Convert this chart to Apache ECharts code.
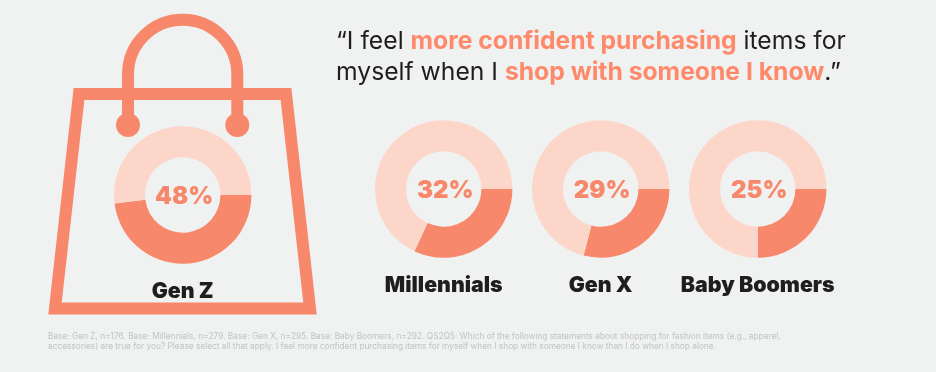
<!DOCTYPE html>
<html>
<head>
<meta charset="utf-8">
<style>
  html, body { margin: 0; padding: 0; background: #f0f1f1; }
  #chart { width: 936px; height: 372px; }
</style>
<script src="https://cdn.jsdelivr.net/npm/echarts@6/dist/echarts.min.js"></script>
</head>
<body>
<div id="chart"></div>
<script>
const generations = ['Gen Z', 'Millennials', 'Gen X', 'Baby Boomers']
const agreePct = [48, 32, 29, 25]
const restPct = [52, 68, 71, 75]

const dark = '#f8886b'
const light = '#fdd6ca'
const coral = '#ff8a6b'
const ink = '#1f1d1e'
const font = 'Inter'

// donut centres, left to right
const centers = [[182.7, 195], [443.7, 189], [600.7, 189], [757.7, 189]]
const nameY = [292, 286, 286, 286]

const chart = echarts.init(document.getElementById('chart'))

const bag = [
  // bag body
  {
    type: 'polygon',
    z: 0,
    shape: { points: [[79, 94], [286, 94], [310, 308.5], [55, 308.5]] },
    style: { fill: 'none', stroke: dark, lineWidth: 12, lineJoin: 'miter' },
  },
  // handle
  {
    type: 'arc',
    z: 0,
    shape: { cx: 182.65, cy: 74.5, r: 54.65, startAngle: Math.PI, endAngle: Math.PI * 2, clockwise: true },
    style: { fill: 'none', stroke: dark, lineWidth: 12 },
  },
  { type: 'line', z: 0, shape: { x1: 128, y1: 74, x2: 128, y2: 125 }, style: { stroke: dark, lineWidth: 12 } },
  { type: 'line', z: 0, shape: { x1: 237.3, y1: 74, x2: 237.3, y2: 125 }, style: { stroke: dark, lineWidth: 12 } },
  { type: 'circle', z: 0, shape: { cx: 128, cy: 125, r: 12 }, style: { fill: dark } },
  { type: 'circle', z: 0, shape: { cx: 237.3, cy: 125, r: 12 }, style: { fill: dark } },
]

const names = generations.map((g, i) => ({
  type: 'text',
  x: centers[i][0],
  y: nameY[i],
  style: {
    text: g,
    align: 'center',
    verticalAlign: 'middle',
    fontFamily: font,
    fontSize: 21.3,
    fontWeight: 900,
    fill: ink,
  },
}))

// percent in the donut hole
const pctLabels = agreePct.map((v, i) => ({
  type: 'text',
  x: centers[i][0] + 1.5,
  y: centers[i][1] + 2,
  style: {
    text: v + '%',
    align: 'center',
    verticalAlign: 'middle',
    fontFamily: font,
    fontSize: 24,
    fontWeight: 900,
    fill: dark,
  },
}))

const option = {
  animation: false,
  backgroundColor: '#f0f1f1',
  series: generations.map((g, i) => ({
    type: 'pie',
    center: centers[i],
    radius: [37.7, 68.7],
    startAngle: 0,
    silent: true,
    label: { show: false },
    labelLine: { show: false },
    data: [
      { name: g, value: agreePct[i], itemStyle: { color: dark } },
      { name: 'Other', value: restPct[i], itemStyle: { color: light } },
    ],
  })),
  graphic: [
    ...bag,
    ...names,
    ...pctLabels,
    // quote
    {
      type: 'text',
      x: 336,
      y: 26,
      style: {
        text: '{n|\u201cI feel }{b|more confident purchasing}{n| items for}\n{n|myself when I }{b|shop with someone I know}{n|.\u201d}',
        rich: {
          n: { fontFamily: font, fontSize: 24.7, fontWeight: 400, fill: ink, lineHeight: 31 },
          b: { fontFamily: font, fontSize: 24.7, fontWeight: 700, fill: coral, lineHeight: 31 },
        },
      },
    },
    // footnote
    {
      type: 'text',
      x: 48,
      y: 331.5,
      style: {
        text: 'Base: Gen Z, n=176. Base: Millennials, n=279. Base: Gen X, n=295. Base: Baby Boomers, n=292. QS2Q5: Which of the following statements about shopping for fashion items (e.g., apparel,\naccessories) are true for you? Please select all that apply. I feel more confident purchasing items for myself when I shop with someone I know than I do when I shop alone.',
        fontFamily: font,
        fontSize: 8.3,
        lineHeight: 10.3,
        fill: '#c2c4c4',
      },
    },
  ],
}

chart.setOption(option)
</script>
</body>
</html>
